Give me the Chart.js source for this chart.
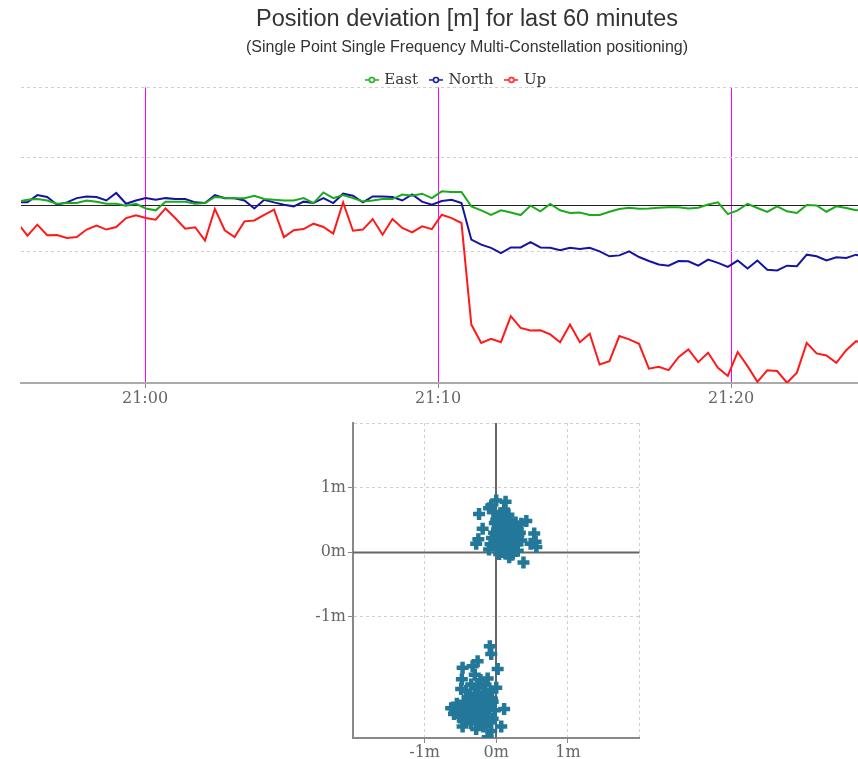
<!DOCTYPE html>
<html lang="en">
<head>
<meta charset="UTF-8">
<title>Position deviation</title>
<script src="https://cdn.jsdelivr.net/npm/chart.js@4.4.1/dist/chart.umd.min.js"></script>
<style>
  body { margin: 0; background: #fff; overflow: hidden; }
  /* the deviation chart is wider than the window, its right part is cut off */
  #top { position: absolute; left: 0; top: 0; width: 913px; height: 410px; }
  #bottom { position: absolute; left: 300px; top: 410px; width: 350px; height: 349px; }
</style>
</head>
<body>
<div id="top"><canvas id="deviation"></canvas></div>
<div id="bottom"><canvas id="scatter"></canvas></div>
<script>
// deviations in metres, one sample every ~20 s, first sample at 20:55:39
const sampleStart = -261;   // seconds relative to 21:00:00
const sampleStep = 20.2;

const east = [
  0.13, 0.21, 0.24, 0.18, 0.04, 0.07, 0.07, 0.18, 0.13, 0.04, 0.04, -0.04, 0.04,
  -0.16, -0.24, 0.13, 0.13, 0.13, 0.04, 0.07, 0.33, 0.30,
  0.28, 0.28, 0.38, 0.24, 0.21, 0.18, 0.18, 0.28, 0.07, 0.52, 0.28, 0.41, 0.28, 0.14, 0.18, 0.24, 0.24, 0.43, 0.38, 0.47, 0.28,
  0.57, 0.54, 0.54, -0.07, -0.24, -0.43, -0.24, -0.33, -0.44, -0.04, -0.28, 0.03, -0.24, -0.35, -0.33, -0.44, -0.44, -0.30, -0.18, -0.13, -0.17,
  -0.16, -0.13, -0.11, -0.11, -0.16, -0.13, 0.01, 0.10, -0.40, -0.24, 0.04, -0.14, -0.31, -0.07, -0.28, -0.35, -0.01, -0.03, -0.30, -0.07, -0.14, -0.24, -0.22
];
const north = [
  0.10, 0.10, 0.41, 0.33, 0.00, 0.10, 0.28, 0.35, 0.33, 0.18, 0.50, 0.04, 0.18,
  0.28, 0.21, 0.28, 0.24, 0.24, 0.10, 0.07, 0.41, 0.28,
  0.27, 0.18, -0.16, 0.21, 0.10, 0.00, -0.07, 0.13, 0.07, 0.28, 0.07, 0.47, 0.38, 0.10, 0.35, 0.35, 0.33, 0.18, 0.44, 0.13, 0.00,
  0.16, 0.21, 0.07, -1.49, -1.70, -1.84, -2.06, -1.82, -1.82, -1.60, -1.82, -1.84, -1.94, -1.84, -1.89, -1.84, -1.99, -2.20, -2.16, -1.99, -2.23,
  -2.40, -2.55, -2.60, -2.40, -2.41, -2.60, -2.34, -2.48, -2.65, -2.38, -2.72, -2.38, -2.77, -2.80, -2.60, -2.62, -2.13, -2.20, -2.38, -2.24, -2.27, -2.13, -2.25
];
const up = [
  -0.78, -1.32, -0.85, -1.30, -1.29, -1.42, -1.38, -1.06, -0.89, -1.06, -0.95, -0.57, -0.45,
  -0.57, -0.64, -0.16, -0.58, -1.02, -0.96, -1.53, -0.18, -1.09,
  -1.38, -0.71, -0.67, -0.43, -0.21, -1.38, -1.09, -1.04, -0.81, -0.95, -1.23, 0.10, -1.11, -1.06, -0.61, -1.28, -0.61, -0.99, -1.18, -0.92, -1.04,
  -0.43, -0.57, -0.78, -5.11, -5.89, -5.72, -5.86, -4.75, -5.25, -5.36, -5.35, -5.53, -5.86, -5.11, -5.86, -5.50, -6.81, -6.67, -5.60, -5.74, -5.93,
  -6.99, -6.91, -7.05, -6.50, -6.17, -6.71, -6.31, -6.95, -7.30, -6.28, -6.88, -7.55, -7.06, -7.09, -7.59, -7.16, -5.89, -6.34, -6.43, -6.74, -6.20, -5.82, -5.95
];

const xTickValues = [0, 600, 1200];
const xTickLabels = ['21:00', '21:10', '21:20'];
const yGridValues = [-2, 2, 5];

// horizontal scatter: East (x) against North (y), metres
const scatterEast = [
  -0.24, -0.07, 0.00, 0.13, 0.11, -0.10, -0.04, -0.19, -0.25, -0.28, -0.10, 0.04, 0.18, 0.38, 0.53, 0.55, 0.48, 0.56, 0.42, 0.35,
  0.00, 0.05, 0.10, 0.15, 0.20, 0.25, 0.30, 0.02, 0.08, 0.12, 0.18, 0.24, 0.30, 0.35, -0.03, 0.04, 0.10, 0.16, 0.22, 0.28,
  0.00, 0.06, 0.12, 0.18, 0.24, 0.30, 0.02, 0.08, 0.14, 0.22, -0.06, -0.08, 0.33, 0.27, 0.06, 0.14, 0.20, -0.02, 0.09, 0.17,
  0.03, 0.13, 0.21, 0.07, 0.17, 0.26, 0.11, 0.19, 0.04, 0.15, 0.23, 0.09, 0.31, 0.01, 0.27,
  -0.09, -0.07, 0.02, -0.47, -0.26, -0.33, -0.12, 0.00, -0.48, -0.49, 0.11, -0.63, 0.07, -0.47, -0.28, -0.12, -0.07, -0.59,
  -0.30, -0.22, -0.15, -0.25, -0.35, -0.08, -0.18, -0.30, -0.40,
  -0.55, -0.45, -0.35, -0.25, -0.15, -0.05, -0.50, -0.40, -0.30, -0.20, -0.10, -0.02, -0.52, -0.42, -0.32, -0.22, -0.12, -0.05,
  -0.45, -0.35, -0.25, -0.15, -0.38, -0.12, -0.42, -0.20, -0.28, -0.58, -0.08, -0.18,
  -0.40, -0.30, -0.20, -0.10, -0.47, -0.37, -0.27, -0.17, -0.33, -0.23, -0.13, -0.43, -0.50, -0.06, -0.26
];
const scatterNorth = [
  0.59, 0.72, 0.80, 0.78, 0.66, 0.68, 0.62, 0.36, 0.20, 0.13, 0.04, -0.03, -0.08, -0.16, 0.29, 0.16, 0.13, 0.08, 0.48, 0.44,
  0.50, 0.55, 0.52, 0.45, 0.50, 0.40, 0.35, 0.40, 0.42, 0.35, 0.33, 0.28, 0.22, 0.18, 0.30, 0.28, 0.25, 0.20, 0.18, 0.12,
  0.18, 0.14, 0.10, 0.08, 0.05, 0.02, 0.06, 0.00, -0.02, -0.04, 0.22, 0.12, 0.30, 0.46, 0.34, 0.15, 0.26, 0.45, 0.60, 0.58,
  0.47, 0.40, 0.37, 0.32, 0.27, 0.21, 0.17, 0.12, 0.23, 0.04, 0.09, 0.49, 0.27, 0.35, 0.36,
  -1.46, -1.58, -1.81, -1.79, -1.69, -1.77, -1.96, -2.10, -1.97, -2.12, -2.43, -2.42, -2.70, -2.70, -2.74, -2.87, -2.77, -2.51,
  -1.90, -1.98, -2.05, -2.10, -2.05, -2.15, -2.18, -2.20, -2.25,
  -2.35, -2.32, -2.35, -2.30, -2.30, -2.32, -2.45, -2.42, -2.45, -2.40, -2.42, -2.45, -2.55, -2.55, -2.52, -2.55, -2.55, -2.58,
  -2.62, -2.65, -2.62, -2.65, -2.28, -2.20, -2.15, -2.50, -2.58, -2.44, -2.62, -2.70,
  -2.38, -2.40, -2.35, -2.37, -2.50, -2.48, -2.50, -2.47, -2.58, -2.60, -2.60, -2.62, -2.40, -2.27, -2.25
];
const scatterTicksX = [-2, -1, 0, 1, 2];
const scatterTicksY = [-1, 0, 1, 2];
const scatterLabelled = [-1, 0, 1];

const serif = 'DejaVu Serif';
const sans = "'Liberation Sans', Arial, sans-serif";

// little "-o-" marker for the legend
function legendMarker(color) {
  const c = document.createElement('canvas');
  c.width = 14;
  c.height = 8;
  const g = c.getContext('2d');
  g.strokeStyle = color;
  g.lineWidth = 1.5;
  g.beginPath();
  g.moveTo(0, 4);
  g.lineTo(14, 4);
  g.stroke();
  g.beginPath();
  g.arc(7, 4, 2.5, 0, Math.PI * 2);
  g.fillStyle = '#fff';
  g.fill();
  g.stroke();
  return c;
}

const series = (values) => values.map((v, i) => ({ x: sampleStart + i * sampleStep, y: v }));

// draws the zero line(s) under the data
const zeroLine = {
  id: 'zeroLine',
  beforeDatasetsDraw(chart, args, opts) {
    const { ctx, chartArea } = chart;
    ctx.save();
    ctx.strokeStyle = opts.color;
    ctx.lineWidth = opts.width;
    if (opts.horizontal) {
      const y = Math.round(chart.scales.y.getPixelForValue(0)) + 0.5;
      ctx.beginPath();
      ctx.moveTo(chartArea.left, y);
      ctx.lineTo(chartArea.right, y);
      ctx.stroke();
    }
    if (opts.vertical) {
      const x = Math.round(chart.scales.x.getPixelForValue(0));
      ctx.beginPath();
      ctx.moveTo(x, chartArea.top);
      ctx.lineTo(x, chartArea.bottom);
      ctx.stroke();
    }
    ctx.restore();
  }
};

// the built-in legend keeps ~20px under the labels, pull the plot up closer
const tightLegend = {
  id: 'tightLegend',
  afterInit(chart) {
    const legend = chart.legend;
    const fit = legend.fit;
    legend.fit = function () {
      fit.call(this);
      this.height -= 10;
    };
  }
};

const colors = { east: '#1aaa1a', north: '#1414a0', up: '#ff1a1a' };

new Chart(document.getElementById('deviation'), {
  type: 'line',
  data: {
    datasets: [
      { label: 'East', data: series(east), borderColor: colors.east, pointStyle: legendMarker(colors.east) },
      { label: 'North', data: series(north), borderColor: colors.north, pointStyle: legendMarker(colors.north) },
      { label: 'Up', data: series(up), borderColor: colors.up, pointStyle: legendMarker(colors.up) }
    ]
  },
  plugins: [zeroLine, tightLegend],
  options: {
    animation: false,
    responsive: true,
    maintainAspectRatio: false,
    layout: { padding: 0 },
    elements: {
      line: { borderWidth: 2, tension: 0 },
      point: { radius: 0, hoverRadius: 0 }
    },
    scales: {
      x: {
        type: 'linear',
        min: -254,
        max: 1572.6,
        afterBuildTicks: (scale) => { scale.ticks = xTickValues.map(v => ({ value: v })); },
        afterFit: (scale) => { scale.height = 27; },
        ticks: {
          font: { family: serif, size: 16 },
          color: '#666',
          padding: 1,
          maxRotation: 0,
          callback: (v) => xTickLabels[xTickValues.indexOf(v)]
        },
        grid: { color: '#ff00ff', lineWidth: 1, tickLength: 5, tickColor: '#888' },
        border: { color: '#aaa', width: 2 }
      },
      y: {
        min: -7.6,
        max: 5,
        afterBuildTicks: (scale) => { scale.ticks = yGridValues.map(v => ({ value: v })); },
        afterFit: (scale) => { scale.width = 21; },
        ticks: { display: false },
        grid: { color: '#d0d0d0', drawTicks: false },
        border: { display: false, dash: [3, 3] }
      }
    },
    plugins: {
      zeroLine: { color: '#222', width: 1.2, horizontal: true },
      title: {
        display: true,
        fullSize: false,   // centred over the plot area
        text: 'Position deviation [m] for last 60 minutes',
        color: '#333',
        font: { family: sans, size: 23.5, weight: 'normal' },
        padding: { top: 5, bottom: 0 }
      },
      subtitle: {
        display: true,
        fullSize: false,
        text: '(Single Point Single Frequency Multi-Constellation positioning)',
        color: '#333',
        font: { family: sans, size: 16 },
        padding: { top: 5, bottom: 2 }
      },
      legend: {
        labels: {
          usePointStyle: true,
          pointStyleWidth: 10,
          boxHeight: 8,
          padding: 13,
          color: '#333',
          font: { family: serif, size: 15 }
        }
      },
      tooltip: { enabled: false }
    }
  }
});

new Chart(document.getElementById('scatter'), {
  type: 'scatter',
  data: {
    datasets: [{
      label: 'Horizontal position',
      data: scatterEast.map((e, i) => ({ x: e, y: scatterNorth[i] })),
      pointStyle: 'cross',
      radius: 6,
      borderWidth: 4.5,
      borderColor: '#23789a',
      backgroundColor: '#23789a'
    }]
  },
  plugins: [zeroLine],
  options: {
    animation: false,
    responsive: true,
    maintainAspectRatio: false,
    layout: { padding: { top: 13, right: 10, left: 0, bottom: 0 } },
    scales: {
      x: {
        type: 'linear',
        min: -2,
        max: 2,
        afterBuildTicks: (scale) => { scale.ticks = scatterTicksX.map(v => ({ value: v })); },
        afterFit: (scale) => { scale.height = 21; },
        ticks: {
          font: { family: serif, size: 16 },
          color: '#666',
          padding: 0,
          maxRotation: 0,
          callback: (v) => scatterLabelled.includes(v) ? v + 'm' : ''
        },
        grid: {
          color: (c) => c.tick && c.tick.value === 0 ? 'rgba(0,0,0,0)' : '#d0d0d0',
          tickLength: 5,
          tickColor: (c) => c.tick && scatterLabelled.includes(c.tick.value) ? '#888' : 'rgba(0,0,0,0)'
        },
        border: { color: '#888', width: 2, dash: [3, 3] }
      },
      y: {
        min: -2.88,
        max: 2,
        afterBuildTicks: (scale) => { scale.ticks = scatterTicksY.map(v => ({ value: v })); },
        afterFit: (scale) => { scale.width = 53; },
        ticks: {
          font: { family: serif, size: 16 },
          color: '#666',
          padding: 2,
          callback: (v) => scatterLabelled.includes(v) ? v + 'm' : ''
        },
        grid: {
          color: (c) => c.tick && c.tick.value === 0 ? 'rgba(0,0,0,0)' : '#d0d0d0',
          tickLength: 5,
          tickColor: (c) => c.tick && scatterLabelled.includes(c.tick.value) ? '#888' : 'rgba(0,0,0,0)'
        },
        border: { color: '#888', width: 2, dash: [3, 3] }
      }
    },
    plugins: {
      zeroLine: { color: '#666', width: 2, horizontal: true, vertical: true },
      legend: { display: false },
      tooltip: { enabled: false }
    }
  }
});
</script>
</body>
</html>
